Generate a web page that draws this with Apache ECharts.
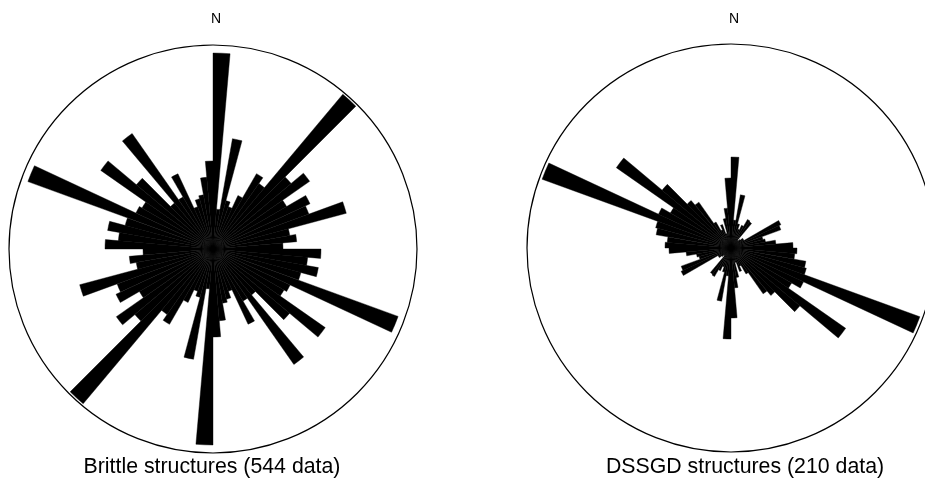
<!DOCTYPE html>
<html>
<head>
<meta charset="utf-8">
<script src="https://cdn.jsdelivr.net/npm/echarts@6/dist/echarts.min.js"></script>
<style>
  html, body { margin: 0; padding: 0; background: #fff; }
  #chart { width: 925px; height: 488px; }
</style>
</head>
<body>
<div id="chart"></div>
<script>
// Azimuth bins (start of each 5° class, clockwise from North)
const binStart = [0,5,10,15,20,25,30,35,40,45,50,55,60,65,70,75,80,85,
                  90,95,100,105,110,115,120,125,130,135,140,145,150,155,160,165,170,175,
                  180,185,190,195,200,205,210,215,220,225,230,235,240,245,250,255,260,265,
                  270,275,280,285,290,295,300,305,310,315,320,325,330,335,340,345,350,355];

// Petal lengths (outer circle = 204) for strike classes 0–175°; axial data, so
// each class is also plotted at the opposite azimuth (180–355°).
const brittleHalf = [196, 40, 112, 50, 45, 59, 87, 80, 202, 102, 118, 85,
                     107, 102, 138, 78, 84, 70, 108, 95, 107, 91, 197, 85,
                     82, 137, 100, 60, 141, 60, 83, 45, 52, 55, 72, 88];
const dssgdHalf   = [91, 28, 54, 25, 20, 25, 33, 32, 10, 12, 15, 15,
                     55, 53, 33, 35, 45, 62, 66, 64, 76, 78, 201, 80,
                     70, 140, 90, 62, 56, 30, 20, 25, 15, 30, 40, 70];

const brittleRose = brittleHalf.concat(brittleHalf);
const dssgdRose = dssgdHalf.concat(dssgdHalf);

const chartTitles = ['Brittle structures (544 data)', 'DSSGD structures (210 data)'];
const northLabel = 'N';
const radiusMax = 204;

const font = '"Liberation Sans", Arial, Helvetica, sans-serif';
const chart = echarts.init(document.getElementById('chart'), null, { renderer: 'canvas' });

function angleAxis(i) {
  return {
    polarIndex: i, type: 'category', data: binStart, startAngle: 90, clockwise: true,
    boundaryGap: true,
    axisLine: { show: true, lineStyle: { color: '#000', width: 1.2 } },
    axisTick: { show: false }, axisLabel: { show: false }, splitLine: { show: false }
  };
}
function radiusAxis(i) {
  return {
    polarIndex: i, type: 'value', min: 0, max: radiusMax,
    axisLine: { show: false }, axisTick: { show: false },
    axisLabel: { show: false }, splitLine: { show: false }
  };
}
function roseSeries(i, data) {
  return {
    type: 'bar', coordinateSystem: 'polar', polarIndex: i, data: data,
    barCategoryGap: '0%',
    itemStyle: { color: '#000', borderColor: '#000', borderWidth: 0.4 },
    silent: true
  };
}
function text(x, y, str, size) {
  return {
    type: 'text', x: x, y: y,
    style: { text: str, align: 'center', verticalAlign: 'middle',
             fontSize: size, fontFamily: font, fill: '#000' }
  };
}

chart.setOption({
  animation: false,
  backgroundColor: '#fff',
  polar: [
    { center: [213, 249], radius: 204 },
    { center: [731, 248], radius: 204 }
  ],
  angleAxis: [angleAxis(0), angleAxis(1)],
  radiusAxis: [radiusAxis(0), radiusAxis(1)],
  series: [roseSeries(0, brittleRose), roseSeries(1, dssgdRose)],
  graphic: [
    text(216, 19, northLabel, 14),
    text(734, 19, northLabel, 14),
    text(212, 467, chartTitles[0], 21.3),
    text(745, 467, chartTitles[1], 21.3)
  ]
});
</script>
</body>
</html>
